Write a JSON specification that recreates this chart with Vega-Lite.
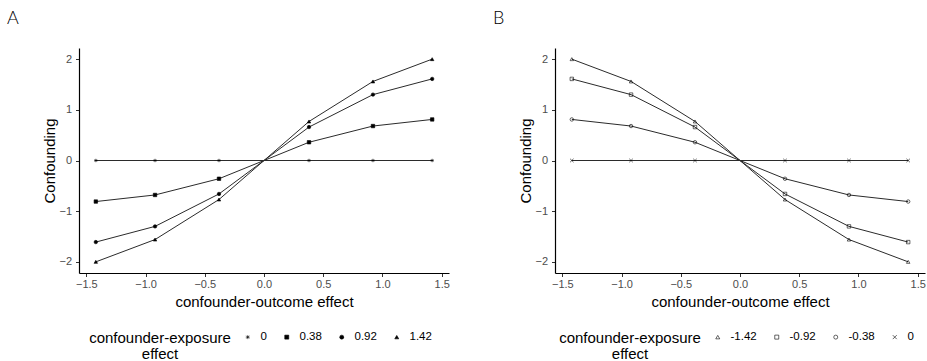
{
  "$schema": "https://vega.github.io/schema/vega-lite/v6.json",
  "padding": {"left": 7, "top": 10, "right": 5, "bottom": 0},
  "background": "white",
  "spacing": 43,
  "resolve": {"scale": {"shape": "independent"}, "legend": {"shape": "independent"}},
  "datasets": {
    "panelA": [
      {"ce": "0", "co": -1.42, "conf": 0}, {"ce": "0", "co": -0.92, "conf": 0}, {"ce": "0", "co": -0.38, "conf": 0}, {"ce": "0", "co": 0, "conf": 0}, {"ce": "0", "co": 0.38, "conf": 0}, {"ce": "0", "co": 0.92, "conf": 0}, {"ce": "0", "co": 1.42, "conf": 0},
      {"ce": "0.38", "co": -1.42, "conf": -0.81}, {"ce": "0.38", "co": -0.92, "conf": -0.68}, {"ce": "0.38", "co": -0.38, "conf": -0.36}, {"ce": "0.38", "co": 0, "conf": 0}, {"ce": "0.38", "co": 0.38, "conf": 0.36}, {"ce": "0.38", "co": 0.92, "conf": 0.68}, {"ce": "0.38", "co": 1.42, "conf": 0.81},
      {"ce": "0.92", "co": -1.42, "conf": -1.61}, {"ce": "0.92", "co": -0.92, "conf": -1.3}, {"ce": "0.92", "co": -0.38, "conf": -0.66}, {"ce": "0.92", "co": 0, "conf": 0}, {"ce": "0.92", "co": 0.38, "conf": 0.66}, {"ce": "0.92", "co": 0.92, "conf": 1.3}, {"ce": "0.92", "co": 1.42, "conf": 1.61},
      {"ce": "1.42", "co": -1.42, "conf": -2.0}, {"ce": "1.42", "co": -0.92, "conf": -1.56}, {"ce": "1.42", "co": -0.38, "conf": -0.77}, {"ce": "1.42", "co": 0, "conf": 0}, {"ce": "1.42", "co": 0.38, "conf": 0.77}, {"ce": "1.42", "co": 0.92, "conf": 1.56}, {"ce": "1.42", "co": 1.42, "conf": 2.0}
    ],
    "panelB": [
      {"ce": "0", "co": -1.42, "conf": 0}, {"ce": "0", "co": -0.92, "conf": 0}, {"ce": "0", "co": -0.38, "conf": 0}, {"ce": "0", "co": 0, "conf": 0}, {"ce": "0", "co": 0.38, "conf": 0}, {"ce": "0", "co": 0.92, "conf": 0}, {"ce": "0", "co": 1.42, "conf": 0},
      {"ce": "-0.38", "co": -1.42, "conf": 0.81}, {"ce": "-0.38", "co": -0.92, "conf": 0.68}, {"ce": "-0.38", "co": -0.38, "conf": 0.36}, {"ce": "-0.38", "co": 0, "conf": 0}, {"ce": "-0.38", "co": 0.38, "conf": -0.36}, {"ce": "-0.38", "co": 0.92, "conf": -0.68}, {"ce": "-0.38", "co": 1.42, "conf": -0.81},
      {"ce": "-0.92", "co": -1.42, "conf": 1.61}, {"ce": "-0.92", "co": -0.92, "conf": 1.3}, {"ce": "-0.92", "co": -0.38, "conf": 0.66}, {"ce": "-0.92", "co": 0, "conf": 0}, {"ce": "-0.92", "co": 0.38, "conf": -0.66}, {"ce": "-0.92", "co": 0.92, "conf": -1.3}, {"ce": "-0.92", "co": 1.42, "conf": -1.61},
      {"ce": "-1.42", "co": -1.42, "conf": 2.0}, {"ce": "-1.42", "co": -0.92, "conf": 1.56}, {"ce": "-1.42", "co": -0.38, "conf": 0.77}, {"ce": "-1.42", "co": 0, "conf": 0}, {"ce": "-1.42", "co": 0.38, "conf": -0.77}, {"ce": "-1.42", "co": 0.92, "conf": -1.56}, {"ce": "-1.42", "co": 1.42, "conf": -2.0}
    ]
  },
  "hconcat": [
    {
      "width": 370,
      "height": 225,
      "title": {"text": "A", "anchor": "start", "frame": "group", "dx": -72},
      "data": {"name": "panelA"},
      "encoding": {
        "x": {"field": "co", "type": "quantitative", "title": "confounder-outcome effect",
              "scale": {"domain": [-1.562, 1.562], "nice": false, "zero": false},
              "axis": {"values": [-1.5, -1.0, -0.5, 0.0, 0.5, 1.0, 1.5], "format": ".1f"}},
        "y": {"field": "conf", "type": "quantitative", "title": "Confounding",
              "scale": {"domain": [-2.22, 2.22], "nice": false, "zero": false},
              "axis": {"values": [-2, -1, 0, 1, 2]}}
      },
      "layer": [
        {"mark": {"type": "line", "color": "#2b2b2b", "strokeWidth": 1},
         "encoding": {"detail": {"field": "ce", "type": "nominal"}}},
        {"transform": [{"filter": "datum.co != 0"}],
         "mark": {"type": "point", "filled": true, "color": "black", "stroke": "black", "strokeWidth": 0.6, "size": 12, "opacity": 1},
         "encoding": {"shape": {"field": "ce", "type": "nominal",
           "scale": {"domain": ["0", "0.38", "0.92", "1.42"],
                     "range": ["M-1,0L1,0M0,-1L0,1M-0.7,-0.7L0.7,0.7M-0.7,0.7L0.7,-0.7", "square", "circle", "triangle-up"]},
           "legend": {"title": ["confounder-exposure", "effect"], "padding": 10, "offset": 11}}}}
      ]
    },
    {
      "width": 370,
      "height": 225,
      "title": {"text": "B", "anchor": "start", "frame": "group", "dx": -62},
      "data": {"name": "panelB"},
      "encoding": {
        "x": {"field": "co", "type": "quantitative", "title": "confounder-outcome effect",
              "scale": {"domain": [-1.562, 1.562], "nice": false, "zero": false},
              "axis": {"values": [-1.5, -1.0, -0.5, 0.0, 0.5, 1.0, 1.5], "format": ".1f"}},
        "y": {"field": "conf", "type": "quantitative", "title": "Confounding",
              "scale": {"domain": [-2.22, 2.22], "nice": false, "zero": false},
              "axis": {"values": [-2, -1, 0, 1, 2]}}
      },
      "layer": [
        {"mark": {"type": "line", "color": "#2b2b2b", "strokeWidth": 1},
         "encoding": {"detail": {"field": "ce", "type": "nominal"}}},
        {"transform": [{"filter": "datum.co != 0"}],
         "mark": {"type": "point", "filled": false, "color": "black", "strokeWidth": 0.6, "size": 12, "opacity": 1},
         "encoding": {"shape": {"field": "ce", "type": "nominal",
           "scale": {"domain": ["-1.42", "-0.92", "-0.38", "0"],
                     "range": ["triangle-up", "square", "circle", "M-1,-1L1,1M-1,1L1,-1"]},
           "legend": {"title": ["confounder-exposure", "effect"], "padding": 4, "offset": 17}}}}
      ]
    }
  ],
  "config": {
    "font": "Liberation Sans",
    "view": {"stroke": null},
    "title": {"fontSize": 18, "fontWeight": 300, "font": "Lato", "color": "black", "offset": 20},
    "axis": {
      "grid": false,
      "domainColor": "black",
      "domainWidth": 1.2,
      "tickColor": "#333333",
      "tickSize": 3.5,
      "labelColor": "#4d4d4d",
      "labelFontSize": 11,
      "labelFont": "Liberation Sans",
      "titleFont": "Liberation Sans",
      "titleFontSize": 15,
      "titleFontWeight": "normal",
      "titleColor": "black"
    },
    "axisX": {"labelPadding": 2, "titlePadding": 5, "labelFlush": false},
    "axisY": {"labelPadding": 4, "titlePadding": 1},
    "legend": {
      "orient": "bottom",
      "direction": "horizontal",
      "titleOrient": "left",
      "titleAlign": "center",
      "titleAnchor": "start",
      "titleBaseline": "top",
      "titleFont": "Liberation Sans",
      "titleFontSize": 15,
      "titleFontWeight": "normal",
      "titleColor": "black",
      "titleLineHeight": 15.5,
      "titlePadding": -60,
      "labelFont": "Liberation Sans",
      "labelFontSize": 11.5,
      "labelColor": "black",
      "labelOffset": 7,
      "columnPadding": 14,
      "symbolSize": 16,
      "symbolStrokeWidth": 0.6
    }
  }
}
